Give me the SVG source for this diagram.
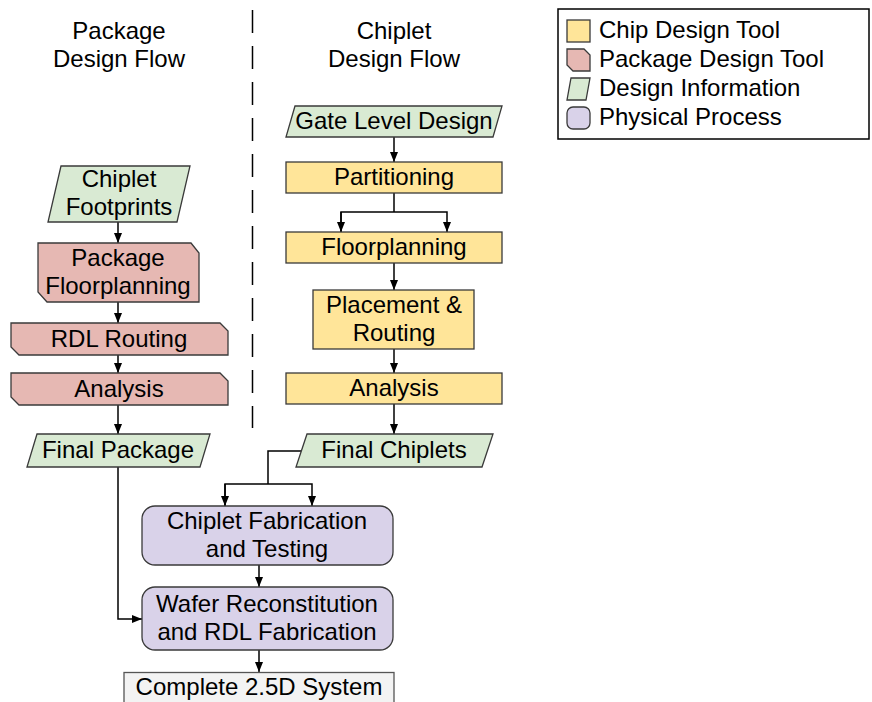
<svg xmlns="http://www.w3.org/2000/svg" width="872" height="702" viewBox="0 0 872 702">
<defs>
<marker id="arr" viewBox="0 0 10 8" refX="10" refY="4" markerWidth="10" markerHeight="8" markerUnits="userSpaceOnUse" orient="auto">
<path d="M0,0 L10,4 L0,8 z" fill="#000"/>
</marker>
<style>
text{font-family:"Liberation Sans",Arial,sans-serif;font-size:24px;fill:#000;text-anchor:middle}
.lg{font-size:24px;text-anchor:start}
.shape{stroke:#3a3a3a;stroke-width:1.3}
.chip{fill:#ffe599}
.pkg{fill:#e6b8b3}
.info{fill:#d9ead3}
.phys{fill:#d9d2e9}
.out{fill:#f3f3f3;stroke:#555}
.con{fill:none;stroke:#000;stroke-width:1.5}
</style>
</defs>
<rect width="872" height="702" fill="#fff"/>

<g id="headers">
<text x="119" y="39">Package</text>
<text x="119" y="67">Design Flow</text>
<text x="394" y="39">Chiplet</text>
<text x="394" y="67">Design Flow</text>
<line x1="252.5" y1="10" x2="252.5" y2="428" stroke="#000" stroke-width="1.5" stroke-dasharray="23 13"/>
</g>

<g id="connectors">
<line class="con" x1="394" y1="137" x2="394" y2="162" marker-end="url(#arr)"/>
<polyline class="con" points="394,193 394,212"/>
<polyline class="con" points="341,232 341,212 447,212 447,232" marker-end="url(#arr)"/>
<line class="con" x1="341" y1="212" x2="341" y2="232" marker-end="url(#arr)"/>
<line class="con" x1="394" y1="263" x2="394" y2="290" marker-end="url(#arr)"/>
<line class="con" x1="394" y1="349" x2="394" y2="373" marker-end="url(#arr)"/>
<line class="con" x1="394" y1="404" x2="394" y2="434" marker-end="url(#arr)"/>
<line class="con" x1="118" y1="222" x2="118" y2="243" marker-end="url(#arr)"/>
<line class="con" x1="118" y1="302" x2="118" y2="323" marker-end="url(#arr)"/>
<line class="con" x1="118" y1="355" x2="118" y2="373" marker-end="url(#arr)"/>
<line class="con" x1="118" y1="405" x2="118" y2="434" marker-end="url(#arr)"/>
<polyline class="con" points="301,451 268,451 268,484"/>
<polyline class="con" points="225,506 225,484 312,484 312,506" marker-end="url(#arr)"/>
<line class="con" x1="225" y1="484" x2="225" y2="506" marker-end="url(#arr)"/>
<line class="con" x1="259" y1="565" x2="259" y2="587" marker-end="url(#arr)"/>
<polyline class="con" points="118,467 118,619 142,619" marker-end="url(#arr)"/>
<line class="con" x1="259" y1="650" x2="259" y2="672" marker-end="url(#arr)"/>
</g>

<g id="gate-level-design">
<polygon class="shape info" points="295,106 502,106 493,137 286,137"/>
<text x="394" y="129">Gate Level Design</text>
</g>
<g id="partitioning">
<rect class="shape chip" x="286" y="162" width="216" height="31"/>
<text x="394" y="185">Partitioning</text>
</g>
<g id="floorplanning">
<rect class="shape chip" x="286" y="232" width="216" height="31"/>
<text x="394" y="255">Floorplanning</text>
</g>
<g id="placement-routing">
<rect class="shape chip" x="313" y="290" width="161" height="59"/>
<text x="394" y="313">Placement &amp;</text>
<text x="394" y="341">Routing</text>
</g>
<g id="chip-analysis">
<rect class="shape chip" x="286" y="373" width="216" height="31"/>
<text x="394" y="396">Analysis</text>
</g>
<g id="final-chiplets">
<polygon class="shape info" points="307,434 493,434 482,467 296,467"/>
<text x="394" y="458">Final Chiplets</text>
</g>

<g id="chiplet-footprints">
<polygon class="shape info" points="61,166 190,166 177,222 48,222"/>
<text x="119" y="187">Chiplet</text>
<text x="119" y="215">Footprints</text>
</g>
<g id="package-floorplanning">
<polygon class="shape pkg" points="38,243 191,243 199,253 199,302 47,302 38,292"/>
<text x="118" y="266">Package</text>
<text x="118" y="294">Floorplanning</text>
</g>
<g id="rdl-routing">
<polygon class="shape pkg" points="11,323 220,323 228,331 228,355 19,355 11,347"/>
<text x="119" y="347">RDL Routing</text>
</g>
<g id="package-analysis">
<polygon class="shape pkg" points="11,373 220,373 228,381 228,405 19,405 11,397"/>
<text x="119" y="397">Analysis</text>
</g>
<g id="final-package">
<polygon class="shape info" points="37,434 210,434 200,467 27,467"/>
<text x="118" y="458">Final Package</text>
</g>

<g id="chiplet-fabrication">
<rect class="shape phys" x="142" y="506" width="251" height="59" rx="13"/>
<text x="267" y="529">Chiplet Fabrication</text>
<text x="267" y="557">and Testing</text>
</g>
<g id="wafer-reconstitution">
<rect class="shape phys" x="142" y="587" width="251" height="63" rx="13"/>
<text x="267" y="612">Wafer Reconstitution</text>
<text x="267" y="640">and RDL Fabrication</text>
</g>
<g id="complete-system">
<rect class="shape out" x="124" y="672.5" width="270" height="40"/>
<text x="259" y="695">Complete 2.5D System</text>
</g>

<g id="legend">
<rect x="558" y="9" width="311" height="130" fill="#fff" stroke="#000" stroke-width="1.5"/>
<rect class="shape chip" x="567" y="20" width="23" height="22"/>
<text class="lg" x="599" y="38">Chip Design Tool</text>
<polygon class="shape pkg" points="567,49 584,49 590,55 590,71 573,71 567,65"/>
<text class="lg" x="599" y="67">Package Design Tool</text>
<polygon class="shape info" points="571,78 590,78 586,100 567,100"/>
<text class="lg" x="599" y="96">Design Information</text>
<rect class="shape phys" x="567" y="107" width="23" height="22" rx="6"/>
<text class="lg" x="599" y="125">Physical Process</text>
</g>
</svg>
